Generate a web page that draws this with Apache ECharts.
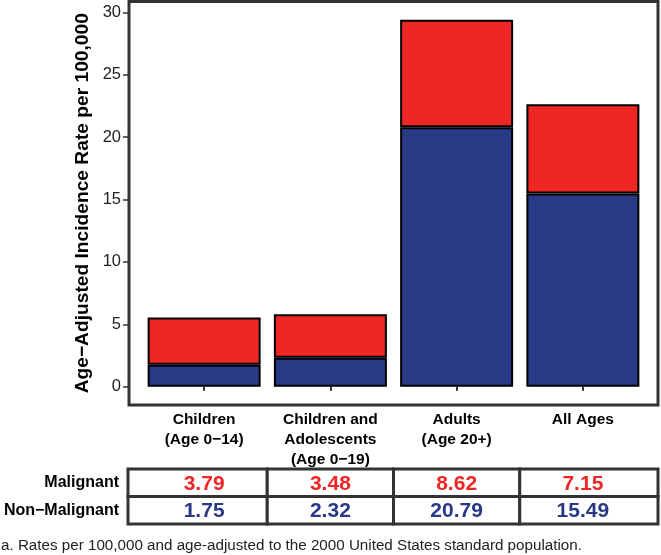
<!DOCTYPE html>
<html>
<head>
<meta charset="utf-8">
<script src="https://cdn.jsdelivr.net/npm/echarts@6/dist/echarts.min.js"></script>
<style>
html,body{margin:0;padding:0;background:#fff;}
#chart{width:661px;height:555px;}
</style>
</head>
<body>
<div id="chart"></div>
<script>
const categories = ['Children\n(Age 0\u221214)', 'Children and\nAdolescents\n(Age 0\u221219)', 'Adults\n(Age 20+)', 'All Ages'];
const malignant = [3.79, 3.48, 8.62, 7.15];
const nonMalignant = [1.75, 2.32, 20.79, 15.49];
const rowLabels = ['Malignant', 'Non\u2212Malignant'];
const yTicks = [0, 5, 10, 15, 20, 25, 30];
const yTitle = 'Age\u2212Adjusted Incidence Rate per 100,000';
const footnote = 'a. Rates per 100,000 and age-adjusted to the 2000 United States standard population.';

const FONT = '"Liberation Sans", Arial, sans-serif';
const RED = '#EE2624';
const BLUE = '#283A85';
const yMin = -1.47, yMax = 30.88;

const tableData = [];
malignant.forEach((v, i) => tableData.push([i, 0, v]));
nonMalignant.forEach((v, i) => tableData.push([i, 1, v]));

const chart = echarts.init(document.getElementById('chart'), null, {renderer: 'canvas'});
chart.setOption({
  backgroundColor: '#fff',
  animation: false,
  title: {
    text: footnote, left: 1, top: 538, padding: 0,
    textStyle: {fontFamily: FONT, fontSize: 15.2, fontWeight: 'normal', color: '#222'}
  },
  grid: [
    {left: 129, right: 3, top: 1.5, bottom: 150, show: true, borderColor: '#333', borderWidth: 3, backgroundColor: '#fff'},
    {left: 141, right: 15, top: 1.5, bottom: 150},
    {left: 141, right: 15, top: 469, bottom: 31}
  ],
  xAxis: [
    {gridIndex: 0, type: 'value', show: false, min: 0, max: 1},
    {gridIndex: 1, type: 'category', data: categories,
      axisLine: {show: false},
      axisTick: {show: true, alignWithLabel: true, length: 4, lineStyle: {color: '#333', width: 2}},
      axisLabel: {fontFamily: FONT, fontSize: 15.5, fontWeight: 'bold', color: '#000', lineHeight: 20, margin: 5, interval: 0}
    },
    {gridIndex: 2, type: 'category', data: categories, show: false}
  ],
  yAxis: [
    {gridIndex: 0, type: 'value', min: yMin, max: yMax,
      name: yTitle, nameLocation: 'middle', nameGap: 27, nameRotate: 90,
      nameTextStyle: {fontFamily: FONT, fontSize: 19.2, fontWeight: 'bold', color: '#000'},
      axisLine: {show: false},
      splitLine: {show: false},
      axisTick: {show: true, length: 6, customValues: yTicks, lineStyle: {color: '#333', width: 1.5}},
      axisLabel: {customValues: yTicks, fontFamily: FONT, fontSize: 16.5, color: '#222', margin: 8}
    },
    {gridIndex: 1, type: 'value', min: yMin, max: yMax, show: false},
    {gridIndex: 2, type: 'category', data: rowLabels, inverse: true,
      axisLine: {show: false}, axisTick: {show: false},
      axisLabel: {fontFamily: FONT, fontSize: 16, fontWeight: 'bold', color: '#000', margin: 22}
    }
  ],
  series: [
    {name: 'Non\u2212Malignant', type: 'bar', xAxisIndex: 1, yAxisIndex: 1, stack: 'total',
      data: nonMalignant, barWidth: 113,
      itemStyle: {color: BLUE, borderColor: '#000', borderWidth: 2}},
    {name: 'Malignant', type: 'bar', xAxisIndex: 1, yAxisIndex: 1, stack: 'total',
      data: malignant, barWidth: 113,
      itemStyle: {color: RED, borderColor: '#000', borderWidth: 2}},
    {type: 'custom', xAxisIndex: 2, yAxisIndex: 2, data: tableData, clip: false,
      renderItem: function (params, api) {
        const ci = api.value(0), ri = api.value(1), v = api.value(2);
        const c = api.coord([ci, ri]);
        const s = api.size([1, 1]);
        const cs = params.coordSys;
        let x0 = c[0] - s[0] / 2, x1 = c[0] + s[0] / 2;
        if (ci === 0) x0 = cs.x - 13;
        if (ci === categories.length - 1) x1 = cs.x + cs.width + 12;
        const y0 = c[1] - s[1] / 2, y1 = c[1] + s[1] / 2;
        return {
          type: 'group',
          children: [
            {type: 'rect', shape: {x: x0, y: y0, width: x1 - x0, height: y1 - y0},
              style: {fill: '#fff', stroke: '#333', lineWidth: 3}},
            {type: 'text', x: c[0], y: c[1] + 1,
              style: {text: v.toFixed(2), fill: ri === 0 ? RED : BLUE, font: 'bold 21px ' + FONT,
                align: 'center', verticalAlign: 'middle'}}
          ]
        };
      }
    }
  ]
});
</script>
</body>
</html>
